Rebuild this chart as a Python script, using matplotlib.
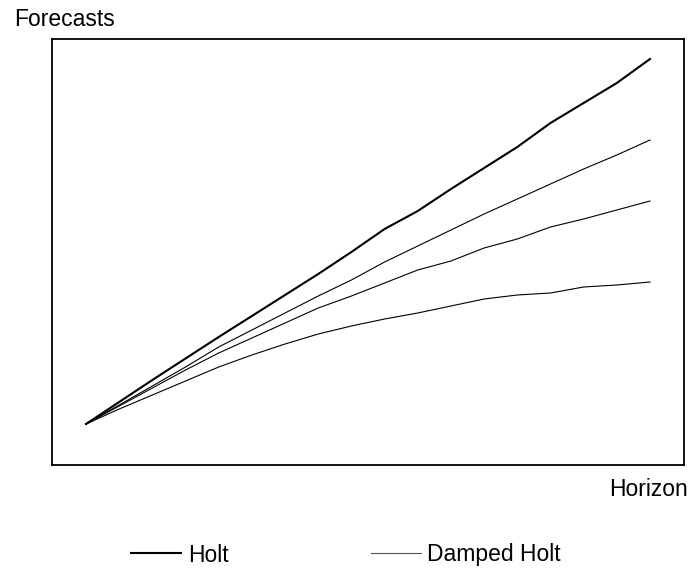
import matplotlib
matplotlib.use("Agg")
import matplotlib.pyplot as plt
import matplotlib.lines as mlines

plt.rcParams['font.family'] = ['Liberation Sans', 'DejaVu Sans']

# Forecast horizon
horizon = list(range(1, 19))

# Forecast values (arbitrary units)
holt = [41, 63, 85, 106.5, 128, 149, 170, 191, 213, 236, 254, 276, 297, 318, 342, 362, 382, 406]
damped_a = [41, 60, 79, 98, 118, 135, 152, 169, 185, 203, 219, 235, 251, 266, 281, 296, 310, 325]
damped_b = [41, 59, 77, 95, 112, 127, 142, 157, 169, 182, 195, 204, 217, 226, 238, 246, 255, 264]
damped_c = [41, 56, 70, 84, 98, 110, 121, 131, 139, 146, 152, 159, 166, 170, 172, 178, 180, 183]

labels = ["Holt", "Damped Holt"]

fig = plt.figure(figsize=(6.93, 5.73), dpi=100)
ax = fig.add_axes([52/693, 1-465/573, 632/693, 426/573])

ax.plot(horizon, holt, color='black', lw=1.5)
ax.plot(horizon, damped_a, color='black', lw=0.8)
ax.plot(horizon, damped_b, color='black', lw=0.8)
ax.plot(horizon, damped_c, color='black', lw=0.8)

ax.set_xlim(-0.025, 19.025)
ax.set_ylim(0, 426)
ax.set_xticks([])
ax.set_yticks([])
for s in ax.spines.values():
    s.set_linewidth(1.3)
    s.set_color('black')

fs = 16.5
fig.text(14/693, 1-19/573, "Forecasts", ha='left', va='center', fontsize=fs)
fig.text(688/693, 1-490/573, "Horizon", ha='right', va='center', fontsize=fs)

h1 = mlines.Line2D([], [], color='black', lw=1.5)
h2 = mlines.Line2D([], [], color='#555555', lw=0.8)
fig.legend([h1, h2], labels, loc='center left', bbox_to_anchor=(131/693, 1-555/573),
           ncol=2, frameon=False, fontsize=fs, handlelength=2.2, handletextpad=0.28,
           columnspacing=6.2, borderpad=0, borderaxespad=0)

fig.savefig("out.png", dpi=100)
